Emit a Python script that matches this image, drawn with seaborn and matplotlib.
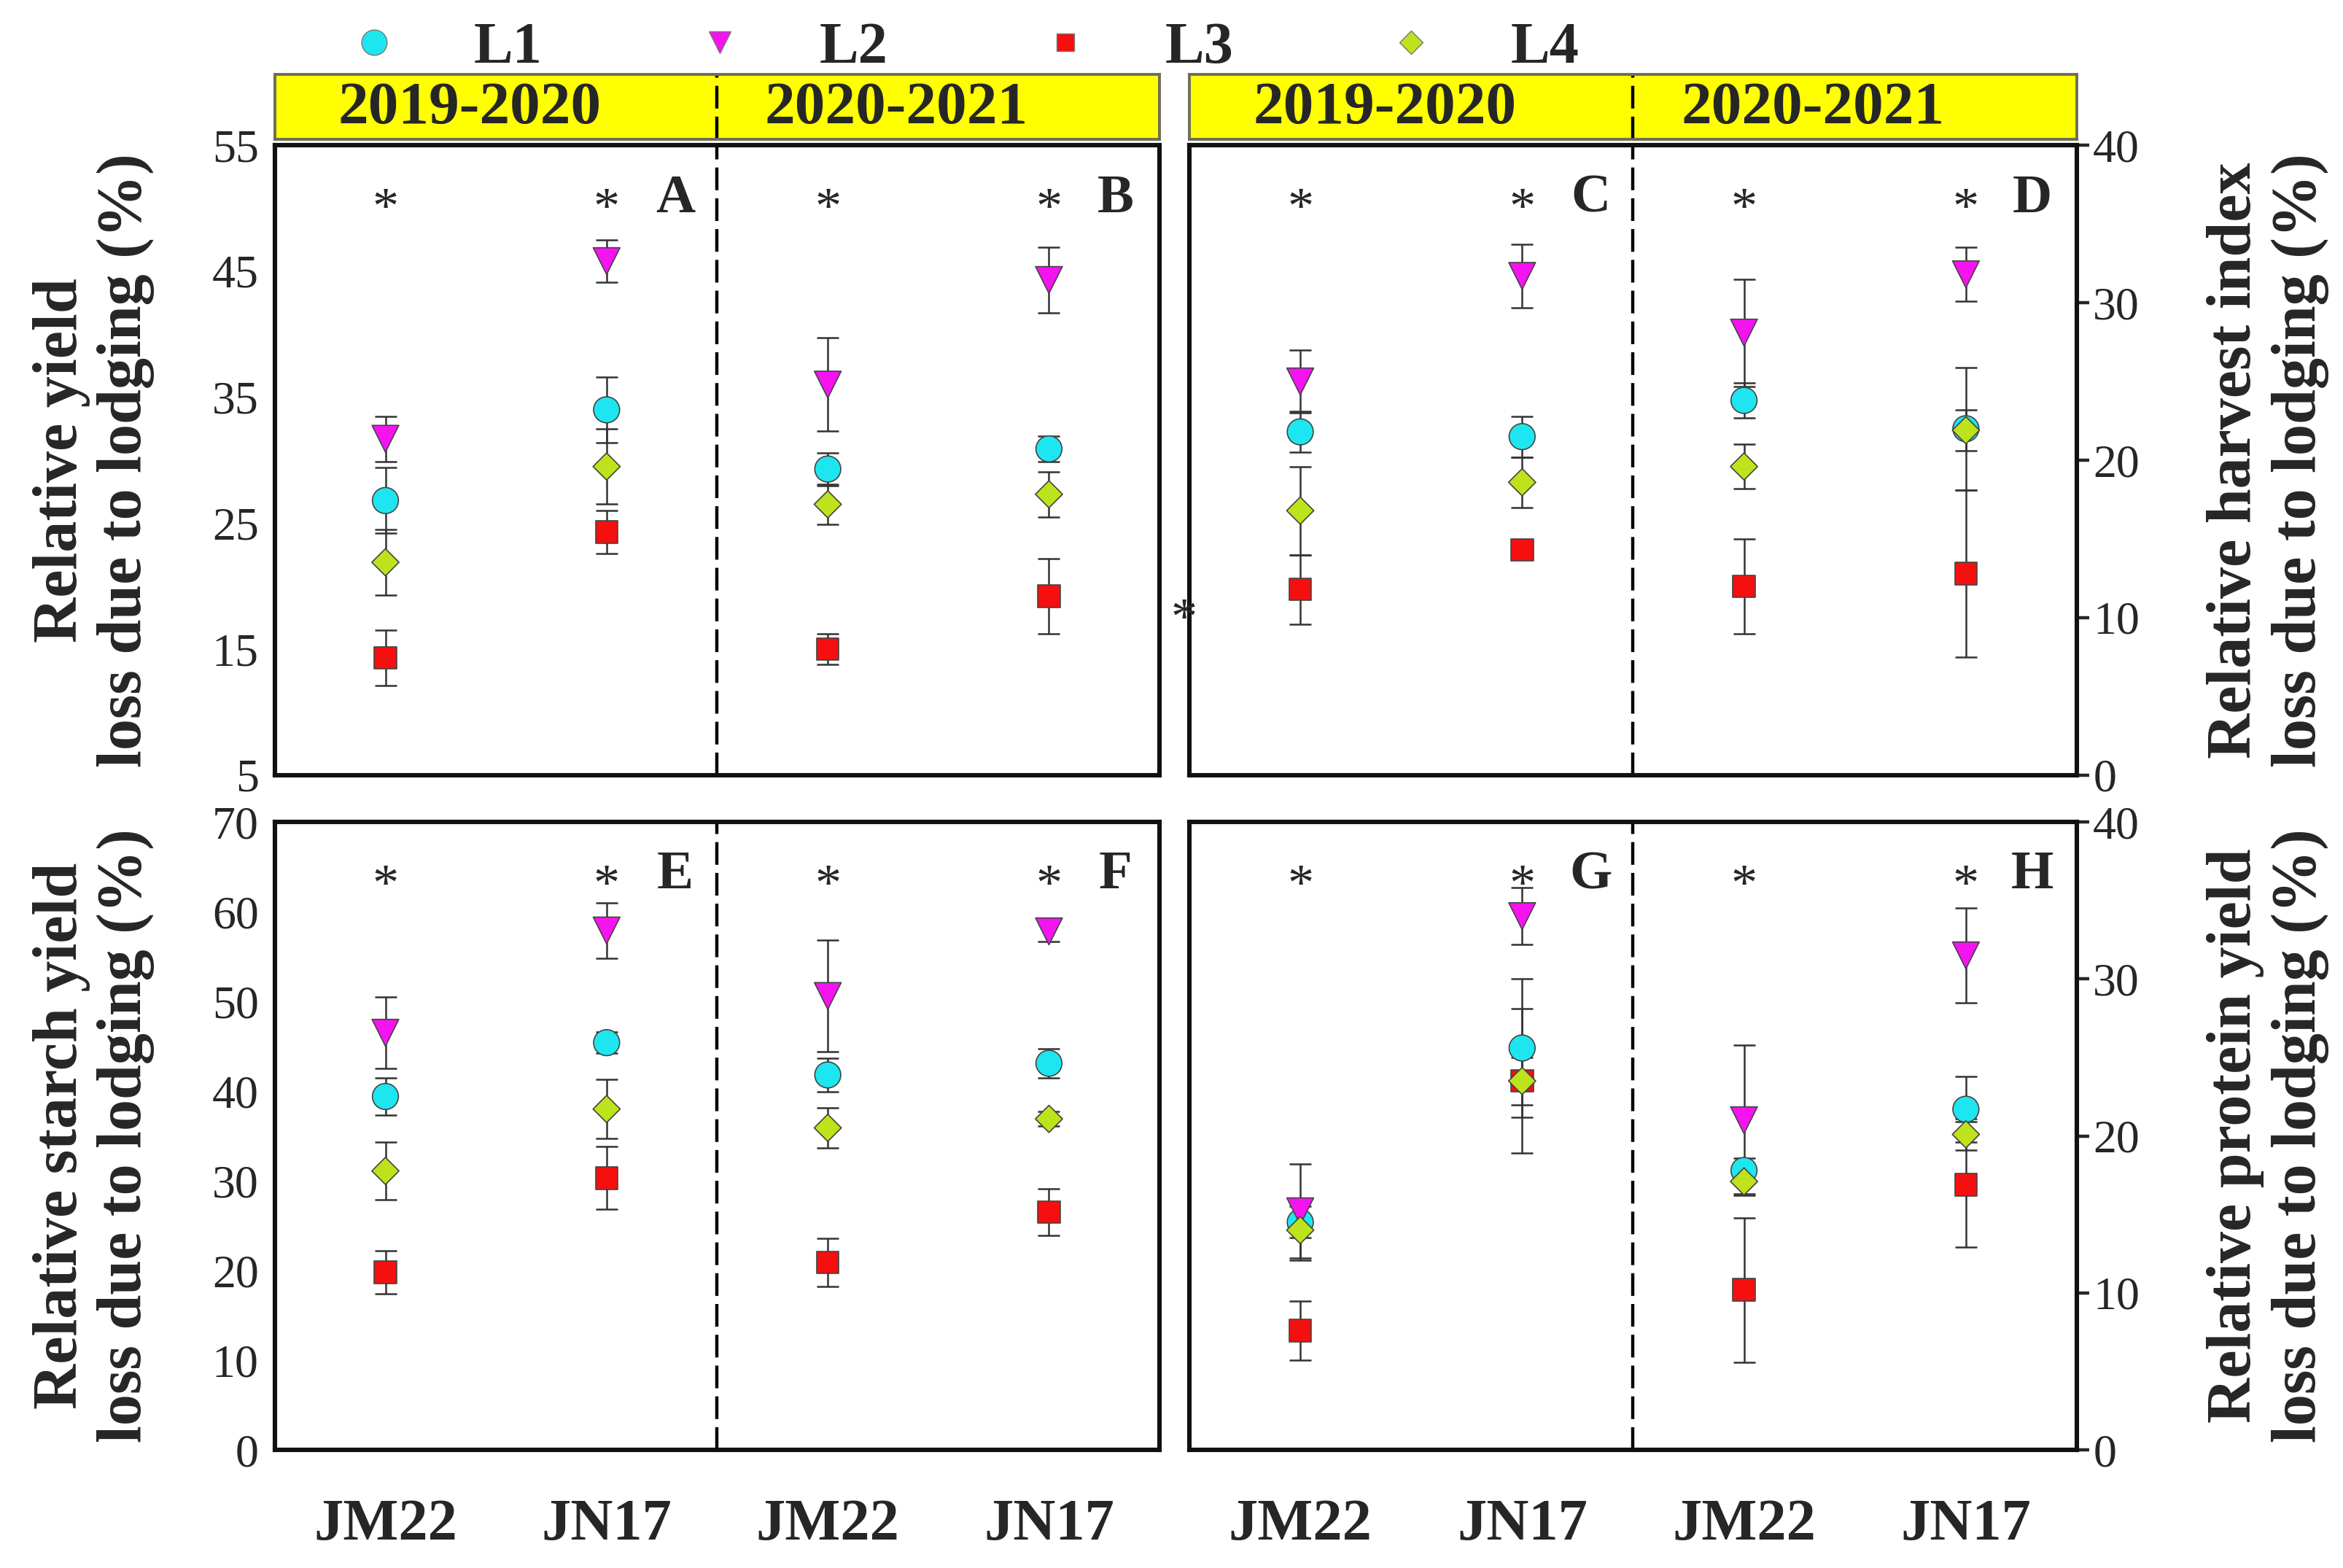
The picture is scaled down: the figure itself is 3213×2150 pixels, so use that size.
import pandas as pd
import matplotlib
matplotlib.use("Agg")
import matplotlib.pyplot as plt
import seaborn as sns
from matplotlib.lines import Line2D

sns.set_style("white")
plt.rcParams['font.family'] = ['Liberation Serif', 'DejaVu Serif']

# categories
levels = ['L1', 'L2', 'L3', 'L4']
cultivars = ['JM22', 'JN17', 'JM22', 'JN17']
seasons = ['2019-2020', '2020-2021']
positions = [1, 3, 5, 7]   # JM22/JN17 in 2019-2020, then in 2020-2021

# relative yield loss (A, B)
yield_mean = {'L1': [26.8, 34.0, 29.3, 30.9], 'L2': [31.7, 45.8, 36.0, 44.3],
              'L3': [14.3, 24.3, 15.0, 19.2], 'L4': [21.9, 29.5, 26.5, 27.3]}
yield_err = {'L1': [2.6, 2.6, 1.3, 1.0], 'L2': [1.8, 1.7, 3.7, 2.6],
             'L3': [2.2, 1.7, 1.2, 3.0], 'L4': [2.6, 3.0, 1.6, 1.8]}

# relative harvest index loss (C, D)
hi_mean = {'L1': [21.8, 21.5, 23.8, 22.0], 'L2': [25.0, 31.7, 28.1, 31.8],
           'L3': [11.8, 14.3, 12.0, 12.8], 'L4': [16.8, 18.6, 19.6, 21.9]}
hi_err = {'L1': [1.3, 1.3, 1.1, 3.9], 'L2': [2.0, 2.0, 3.4, 1.7],
          'L3': [2.2, 0.4, 3.0, 5.3], 'L4': [2.8, 1.6, 1.4, 1.3]}

# relative starch yield loss (E, F)
starch_mean = {'L1': [39.4, 45.4, 41.8, 43.1], 'L2': [46.5, 57.9, 50.6, 57.8],
               'L3': [19.8, 30.3, 20.9, 26.5], 'L4': [31.1, 38.0, 35.9, 36.9]}
starch_err = {'L1': [2.1, 1.2, 1.9, 1.6], 'L2': [4.0, 3.1, 6.2, 1.1],
              'L3': [2.4, 3.5, 2.7, 2.6], 'L4': [3.2, 3.3, 2.2, 0.8]}

# relative protein yield loss (G, H)
protein_mean = {'L1': [14.5, 25.6, 17.8, 21.7], 'L2': [15.2, 34.0, 21.0, 31.5],
                'L3': [7.6, 23.5, 10.2, 16.9], 'L4': [14.0, 23.5, 17.1, 20.1]}
protein_err = {'L1': [1.0, 4.4, 0.8, 2.1], 'L2': [3.0, 1.8, 4.8, 3.0],
               'L3': [1.9, 1.5, 4.6, 4.0], 'L4': [1.9, 4.6, 0.8, 1.0]}

palette = {'L1': '#1ee6f0', 'L2': '#f514f0', 'L3': '#f50f0f', 'L4': '#bde31c'}
marker_map = {'L1': 'o', 'L2': 'v', 'L3': 's', 'L4': 'D'}
size_map = {'L1': 165, 'L2': 175, 'L3': 120, 'L4': 90}

serif = 'Liberation Serif'


def draw_panel(ax, mean, err, ylim, yticks, right, letters, xlabels):
    rows = []
    for lv in levels:
        for p, m, e in zip(positions, mean[lv], err[lv]):
            rows.append({'level': lv, 'pos': p, 'value': m, 'err': e})
    df = pd.DataFrame(rows)

    for lv in levels:
        d = df[df['level'] == lv]
        ax.errorbar(d['pos'], d['value'], yerr=d['err'], fmt='none', ecolor='#333333',
                    elinewidth=0.9, capsize=5.5, capthick=0.9, zorder=2)
    sns.scatterplot(data=df, x='pos', y='value', hue='level', style='level', size='level',
                    palette=palette, markers=marker_map, sizes=size_map,
                    edgecolor='#444444', linewidth=0.6, legend=False, ax=ax, zorder=3)

    ax.axvline(4, color='black', lw=1.6, dashes=(7, 2.5), zorder=1)
    ax.set_xlim(0, 8)
    ax.set_ylim(*ylim)
    ax.set_yticks(yticks)
    ax.set_xticks(positions)
    ax.set_xlabel('')
    ax.set_ylabel('')
    if xlabels:
        ax.set_xticklabels(cultivars, fontsize=29, fontweight='bold', family=serif)
    else:
        ax.set_xticklabels([])
    ax.tick_params(axis='x', direction='out', length=4, width=0.9, color='#555555', pad=20)
    if right:
        ax.yaxis.tick_right()
    ax.tick_params(axis='y', direction='out', length=6, width=1.6, pad=2, labelsize=23)
    for lab in ax.get_yticklabels():
        lab.set_family(serif)
    for sp in ax.spines.values():
        sp.set_linewidth(2.2)
        sp.set_color('#111111')

    tr = ax.get_xaxis_transform()
    for p in positions:
        ax.text(p, 0.876, '*', transform=tr, ha='center', va='baseline', fontsize=26,
                family=serif)
    for x, letter in zip([3.62, 7.6], letters):
        ax.text(x, 0.894, letter, transform=tr, ha='center', va='baseline', fontsize=27,
                fontweight='bold', family=serif)


fig = plt.figure(figsize=(16.065, 10.75), dpi=200)

left_x, left_w = 0.1173, 0.3776
right_x, right_w = 0.5076, 0.3788
top_y, top_h = 0.5056, 0.4018
bot_y, bot_h = 0.0753, 0.4005

ax_a = fig.add_axes([left_x, top_y, left_w, top_h])
ax_c = fig.add_axes([right_x, top_y, right_w, top_h])
ax_e = fig.add_axes([left_x, bot_y, left_w, bot_h])
ax_g = fig.add_axes([right_x, bot_y, right_w, bot_h])

draw_panel(ax_a, yield_mean, yield_err, (5, 55), range(5, 56, 10), False, 'AB', False)
draw_panel(ax_c, hi_mean, hi_err, (0, 40), range(0, 41, 10), True, 'CD', False)
draw_panel(ax_e, starch_mean, starch_err, (0, 70), range(0, 71, 10), False, 'EF', True)
draw_panel(ax_g, protein_mean, protein_err, (0, 40), range(0, 41, 10), True, 'GH', True)

# stray asterisk left of panel C
ax_c.text(-0.05, 9.0, '*', ha='center', va='baseline', fontsize=26, family=serif,
          clip_on=False)

# yellow season headers
for x0, w in [(left_x, left_w), (right_x, right_w)]:
    hax = fig.add_axes([x0, 0.9112, w, 0.0414])
    hax.set_facecolor('#ffff00')
    hax.set_xlim(0, 8)
    hax.set_ylim(0, 1)
    hax.set_xticks([])
    hax.set_yticks([])
    hax.axvline(4, color='black', lw=1.6, dashes=(7, 2.5))
    for cx, s in zip([1.76, 5.62], seasons):
        hax.text(cx, 0.47, s, ha='center', va='center', fontsize=30, fontweight='bold',
                 family=serif)
    for sp in hax.spines.values():
        sp.set_linewidth(1.4)
        sp.set_color('#6e6e55')

# y labels
lab_kw = dict(rotation=90, ha='center', va='center', multialignment='center',
              fontsize=31, fontweight='bold', family=serif, linespacing=1.15)
fig.text(0.040, top_y + top_h / 2, 'Relative yield\nloss due to lodging (%)', **lab_kw)
fig.text(0.040, bot_y + bot_h / 2, 'Relative starch yield\nloss due to lodging (%)', **lab_kw)
fig.text(0.968, top_y + top_h / 2, 'Relative harvest index\nloss due to lodging (%)', **lab_kw)
fig.text(0.968, bot_y + bot_h / 2, 'Relative protein yield\nloss due to lodging (%)', **lab_kw)

# legend
handles = [
    Line2D([], [], ls='none', marker='o', ms=12.5, mfc=palette['L1'], mec='#777777', mew=0.5),
    Line2D([], [], ls='none', marker='v', ms=10.5, mfc=palette['L2'], mec='#777777', mew=0.5),
    Line2D([], [], ls='none', marker='s', ms=8.5, mfc=palette['L3'], mec='#777777', mew=0.5),
    Line2D([], [], ls='none', marker='D', ms=8, mfc=palette['L4'], mec='#777777', mew=0.5),
]
fig.legend(handles, levels, loc='center left', bbox_to_anchor=(0.147, 0.969), ncol=4,
           frameon=False, handlelength=1.0, handletextpad=1.2, columnspacing=2.52,
           borderpad=0, borderaxespad=0,
           prop={'family': serif, 'weight': 'bold', 'size': 29})

fig.savefig('out.png', dpi=200, facecolor='white')
